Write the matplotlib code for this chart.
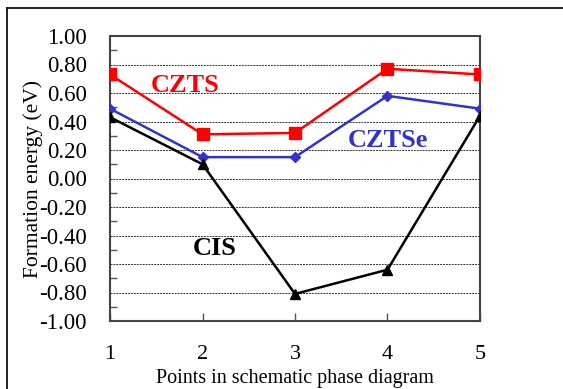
import matplotlib
matplotlib.use("Agg")
import matplotlib.pyplot as plt
from matplotlib.lines import Line2D
from matplotlib.ticker import MultipleLocator, FormatStrFormatter

points = [1, 2, 3, 4, 5]
czts = [0.73, 0.31, 0.32, 0.77, 0.73]
cztse = [0.49, 0.15, 0.15, 0.58, 0.49]
cis = [0.43, 0.10, -0.81, -0.64, 0.44]
yticks = [1.0, 0.8, 0.6, 0.4, 0.2, 0.0, -0.2, -0.4, -0.6, -0.8, -1.0]

plt.rcParams['font.family'] = ['Liberation Serif', 'DejaVu Serif']

W, H = 563, 389
fig = plt.figure(figsize=(W / 100, H / 100), dpi=100)
ax = fig.add_axes([110 / W, 1 - 321 / H, 370 / W, 285 / H])

ax.plot(points, czts, color='#ff0000', lw=1.8, marker='s', ms=8, zorder=3)
ax.plot(points, cztse, color='#3333cc', lw=1.8, marker='D', ms=5, zorder=3)
ax.plot(points, cis, color='black', lw=1.8, marker='^', ms=7, zorder=4)

ax.set_xlim(1, 5)
ax.set_ylim(-1.0, 1.0)
ax.set_xticks(points)
ax.set_yticks(yticks)
ax.yaxis.set_major_formatter(FormatStrFormatter('%.2f'))
ax.yaxis.set_minor_locator(MultipleLocator(0.1))
ax.grid(axis='y', which='major', linestyle=(0, (2, 1)), color='#333333', lw=0.7)
ax.tick_params(axis='y', which='major', direction='in', length=0, labelsize=16.5, pad=16.5)
ax.tick_params(axis='y', which='minor', direction='in', length=5, width=1, color='#555555')
ax.tick_params(axis='x', which='major', direction='in', length=6, width=1, color='#555555', labelsize=16, pad=17)
for s in ax.spines.values():
    s.set_color('#444444')
    s.set_linewidth(1.5)

ax.set_ylabel('Formation energy (eV)', fontsize=15.5, va='center')
ax.yaxis.set_label_coords((33 - 110) / 370, 0.5)
ax.set_xlabel('Points in schematic phase diagram', fontsize=14.5, va='center')
ax.xaxis.set_label_coords(0.5, (321 - 379) / 285)

ax.text(1.81, 0.65, 'CZTS', color='#ff0000', fontsize=19, fontweight='bold', ha='center', va='center')
ax.text(4.0, 0.27, 'CZTSe', color='#3333cc', fontsize=19, fontweight='bold', ha='center', va='center')
ax.text(2.13, -0.49, 'CIS', color='black', fontsize=19, fontweight='bold', ha='center', va='center')

fig.add_artist(Line2D([7.5 / W, 7.5 / W], [0, 1 - 8 / H], transform=fig.transFigure, color='#111111', lw=1.3))
fig.add_artist(Line2D([7.5 / W, 1], [1 - 8 / H, 1 - 8 / H], transform=fig.transFigure, color='#111111', lw=1.3))

fig.savefig('out.png', dpi=100)
